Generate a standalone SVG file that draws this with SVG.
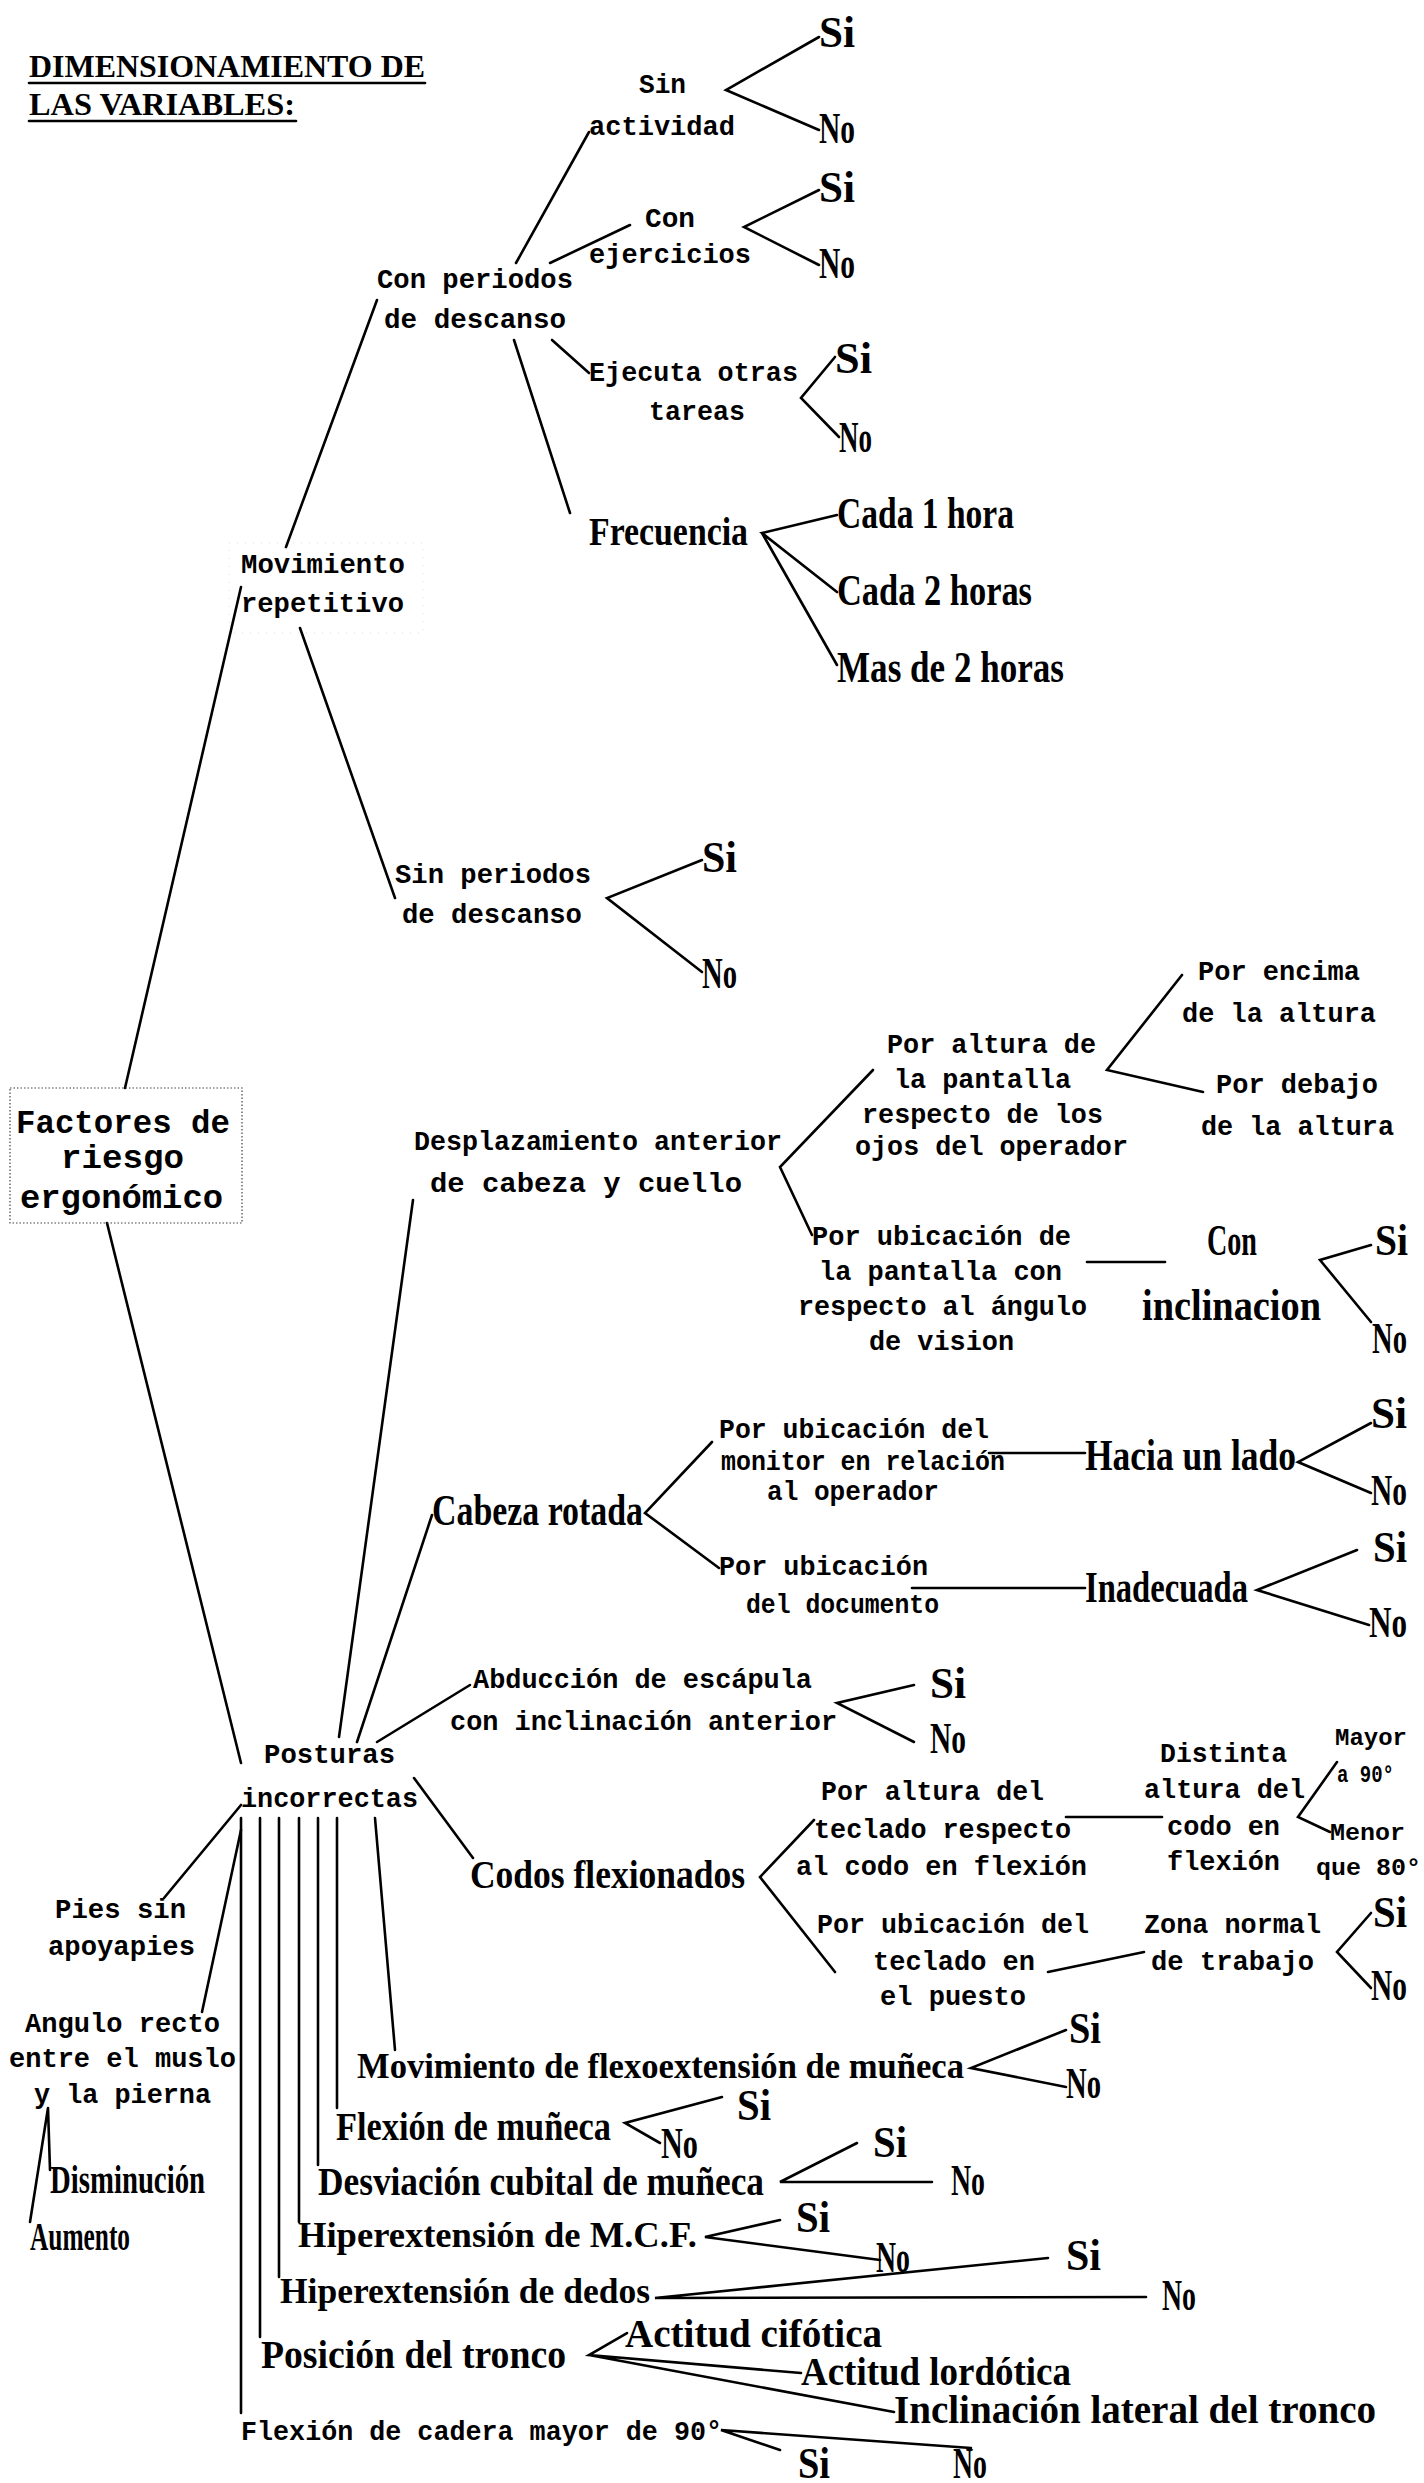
<svg xmlns="http://www.w3.org/2000/svg" width="1424" height="2483" viewBox="0 0 1424 2483">
<style>
text{fill:#000}
.t{font-family:"Liberation Mono","DejaVu Sans Mono",monospace;font-weight:bold;font-size:28px}
.f{font-size:34px}
.s{font-size:24px}
.c{font-family:"Liberation Serif","DejaVu Serif",serif;font-weight:bold;font-size:44px}
.m{font-size:40px}
.n{font-size:36px}
.h{font-family:"Liberation Serif","DejaVu Serif",serif;font-weight:bold;font-size:32px}
.l{stroke:#000;stroke-width:2.6;fill:none;stroke-linecap:round;stroke-linejoin:miter}
.box{fill:none;stroke:#444;stroke-width:1.2;stroke-dasharray:1.5 2}
.fbox{fill:none;stroke:#ddd;stroke-width:1;stroke-dasharray:1 7}
</style>
<rect width="1424" height="2483" fill="#fff"/>

<g id="title">
<text class="h" x="29" y="77" textLength="396" lengthAdjust="spacingAndGlyphs">DIMENSIONAMIENTO DE</text>
<text class="h" x="29" y="115" textLength="266" lengthAdjust="spacingAndGlyphs">LAS VARIABLES:</text>
<line class="l" x1="29" y1="83" x2="425" y2="83" stroke-width="3"/>
<line class="l" x1="29" y1="121" x2="296" y2="121" stroke-width="3"/>
</g>

<g id="connectors">
<path class="l" d="M286,547 L377,300"/>
<path class="l" d="M516,263 L589,132"/>
<path class="l" d="M550,263 L630,225"/>
<path class="l" d="M552,340 L589,373"/>
<path class="l" d="M514,340 L570,513"/>
<path class="l" d="M819,37 L726,90 L819,130"/>
<path class="l" d="M819,190 L744,227 L819,265"/>
<path class="l" d="M835,357 L801,398 L839,437"/>
<path class="l" d="M837,515 L762,533 L837,592 M762,533 L837,665"/>
<path class="l" d="M300,628 L395,898"/>
<path class="l" d="M702,860 L607,898 L702,972"/>
<path class="l" d="M125,1088 L241,587"/>
<path class="l" d="M107,1223 L241,1763"/>
<path class="l" d="M339,1737 L413,1200"/>
<path class="l" d="M873,1070 L780,1167 L812,1235"/>
<path class="l" d="M1182,975 L1107,1070 L1203,1092"/>
<path class="l" d="M1087,1262 L1165,1262"/>
<path class="l" d="M1371,1245 L1320,1260 L1371,1322"/>
<path class="l" d="M357,1742 L432,1515"/>
<path class="l" d="M712,1442 L645,1513 L719,1568"/>
<path class="l" d="M989,1453 L1085,1453"/>
<path class="l" d="M1371,1423 L1298,1462 L1371,1493"/>
<path class="l" d="M912,1588 L1085,1588"/>
<path class="l" d="M1357,1550 L1257,1590 L1369,1625"/>
<path class="l" d="M377,1742 L470,1685"/>
<path class="l" d="M914,1685 L837,1703 L914,1742"/>
<path class="l" d="M414,1778 L473,1858"/>
<path class="l" d="M814,1820 L760,1877 L835,1972"/>
<path class="l" d="M1066,1817 L1162,1817"/>
<path class="l" d="M1337,1762 L1298,1817 L1330,1832"/>
<path class="l" d="M1048,1972 L1144,1952"/>
<path class="l" d="M1371,1913 L1337,1952 L1371,1988"/>
<path class="l" d="M241,1805 L164,1898"/>
<path class="l" d="M241,1830 L202,2012"/>
<path class="l" d="M48,2108 L50,2170 M48,2108 L30,2222"/>
<path class="l" d="M375,1818 L395,2050"/>
<path class="l" d="M241,1818 L241,2413 M260,1818 L260,2337 M279,1818 L279,2277 M299,1818 L299,2222 M318,1818 L318,2165 M337,1818 L337,2108"/>
<path class="l" d="M1066,2030 L971,2068 L1066,2087"/>
<path class="l" d="M722,2097 L625,2123 L660,2143"/>
<path class="l" d="M857,2143 L780,2182 L932,2182"/>
<path class="l" d="M780,2220 L705,2237 L880,2260"/>
<path class="l" d="M1048,2258 L655,2298 L1146,2297"/>
<path class="l" d="M627,2333 L589,2355 L801,2373 M589,2355 L894,2412"/>
<path class="l" d="M780,2450 L721,2430 L971,2448"/>
</g>

<g id="factores">
<rect class="box" x="10" y="1088" width="232" height="135"/>
<text class="t f" x="16" y="1133" textLength="214" lengthAdjust="spacingAndGlyphs">Factores de</text>
<text class="t f" x="61" y="1168" textLength="123" lengthAdjust="spacingAndGlyphs">riesgo</text>
<text class="t f" x="20" y="1208" textLength="203" lengthAdjust="spacingAndGlyphs">ergonómico</text>
</g>

<g id="movimiento-repetitivo">
<rect class="fbox" x="229" y="543" width="194" height="90"/>
<text class="t" x="241" y="573" textLength="164" lengthAdjust="spacingAndGlyphs">Movimiento</text>
<text class="t" x="241" y="612" textLength="163" lengthAdjust="spacingAndGlyphs">repetitivo</text>
</g>

<g id="con-periodos">
<text class="t" x="377" y="288" textLength="196" lengthAdjust="spacingAndGlyphs">Con periodos</text>
<text class="t" x="384" y="328" textLength="182" lengthAdjust="spacingAndGlyphs">de descanso</text>
</g>

<g id="sin-actividad">
<text class="t" x="639" y="93" textLength="47" lengthAdjust="spacingAndGlyphs">Sin</text>
<text class="t" x="589" y="135" textLength="146" lengthAdjust="spacingAndGlyphs">actividad</text>
<text class="c" x="819" y="47" textLength="36" lengthAdjust="spacingAndGlyphs">Si</text>
<text class="c" x="819" y="143" textLength="36" lengthAdjust="spacingAndGlyphs">No</text>
</g>

<g id="con-ejercicios">
<text class="t" x="645" y="227" textLength="50" lengthAdjust="spacingAndGlyphs">Con</text>
<text class="t" x="589" y="263" textLength="162" lengthAdjust="spacingAndGlyphs">ejercicios</text>
<text class="c" x="819" y="202" textLength="36" lengthAdjust="spacingAndGlyphs">Si</text>
<text class="c" x="819" y="278" textLength="36" lengthAdjust="spacingAndGlyphs">No</text>
</g>

<g id="ejecuta-otras-tareas">
<text class="t" x="589" y="381" textLength="209" lengthAdjust="spacingAndGlyphs">Ejecuta otras</text>
<text class="t" x="649" y="420" textLength="96" lengthAdjust="spacingAndGlyphs">tareas</text>
<text class="c" x="835" y="373" textLength="37" lengthAdjust="spacingAndGlyphs">Si</text>
<text class="c" x="839" y="452" textLength="33" lengthAdjust="spacingAndGlyphs">No</text>
</g>

<g id="frecuencia">
<text class="c m" x="589" y="545" textLength="159" lengthAdjust="spacingAndGlyphs">Frecuencia</text>
<text class="c" x="837" y="528" textLength="177" lengthAdjust="spacingAndGlyphs">Cada 1 hora</text>
<text class="c" x="837" y="605" textLength="195" lengthAdjust="spacingAndGlyphs">Cada 2 horas</text>
<text class="c" x="837" y="682" textLength="227" lengthAdjust="spacingAndGlyphs">Mas de 2 horas</text>
</g>

<g id="sin-periodos">
<text class="t" x="395" y="883" textLength="196" lengthAdjust="spacingAndGlyphs">Sin periodos</text>
<text class="t" x="402" y="923" textLength="180" lengthAdjust="spacingAndGlyphs">de descanso</text>
<text class="c" x="702" y="872" textLength="35" lengthAdjust="spacingAndGlyphs">Si</text>
<text class="c" x="702" y="988" textLength="35" lengthAdjust="spacingAndGlyphs">No</text>
</g>

<g id="desplazamiento">
<text class="t" x="414" y="1150" textLength="368" lengthAdjust="spacingAndGlyphs">Desplazamiento anterior</text>
<text class="t" x="430" y="1192" textLength="312" lengthAdjust="spacingAndGlyphs">de cabeza y cuello</text>
</g>

<g id="por-altura-pantalla">
<text class="t" x="887" y="1053" textLength="209" lengthAdjust="spacingAndGlyphs">Por altura de</text>
<text class="t" x="894" y="1088" textLength="177" lengthAdjust="spacingAndGlyphs">la pantalla</text>
<text class="t" x="862" y="1123" textLength="241" lengthAdjust="spacingAndGlyphs">respecto de los</text>
<text class="t" x="855" y="1155" textLength="273" lengthAdjust="spacingAndGlyphs">ojos del operador</text>
</g>

<g id="por-encima">
<text class="t" x="1198" y="980" textLength="162" lengthAdjust="spacingAndGlyphs">Por encima</text>
<text class="t" x="1182" y="1022" textLength="194" lengthAdjust="spacingAndGlyphs">de la altura</text>
</g>

<g id="por-debajo">
<text class="t" x="1216" y="1093" textLength="162" lengthAdjust="spacingAndGlyphs">Por debajo</text>
<text class="t" x="1201" y="1135" textLength="193" lengthAdjust="spacingAndGlyphs">de la altura</text>
</g>

<g id="por-ubicacion-pantalla">
<text class="t" x="812" y="1245" textLength="259" lengthAdjust="spacingAndGlyphs">Por ubicación de</text>
<text class="t" x="819" y="1280" textLength="243" lengthAdjust="spacingAndGlyphs">la pantalla con</text>
<text class="t" x="798" y="1315" textLength="289" lengthAdjust="spacingAndGlyphs">respecto al ángulo</text>
<text class="t" x="869" y="1350" textLength="145" lengthAdjust="spacingAndGlyphs">de vision</text>
</g>

<g id="con-inclinacion">
<text class="c" x="1207" y="1255" textLength="50" lengthAdjust="spacingAndGlyphs">Con</text>
<text class="c" x="1142" y="1320" textLength="179" lengthAdjust="spacingAndGlyphs">inclinacion</text>
<text class="c" x="1375" y="1255" textLength="33" lengthAdjust="spacingAndGlyphs">Si</text>
<text class="c" x="1372" y="1353" textLength="35" lengthAdjust="spacingAndGlyphs">No</text>
</g>

<g id="cabeza-rotada">
<text class="c" x="432" y="1525" textLength="211" lengthAdjust="spacingAndGlyphs">Cabeza rotada</text>
</g>

<g id="por-ubicacion-monitor">
<text class="t" x="719" y="1438" textLength="270" lengthAdjust="spacingAndGlyphs">Por ubicación del</text>
<text class="t" x="721" y="1470" textLength="284" lengthAdjust="spacingAndGlyphs">monitor en relación</text>
<text class="t" x="767" y="1500" textLength="172" lengthAdjust="spacingAndGlyphs">al operador</text>
</g>

<g id="hacia-un-lado">
<text class="c" x="1085" y="1470" textLength="211" lengthAdjust="spacingAndGlyphs">Hacia un lado</text>
<text class="c" x="1371" y="1428" textLength="36" lengthAdjust="spacingAndGlyphs">Si</text>
<text class="c" x="1371" y="1505" textLength="36" lengthAdjust="spacingAndGlyphs">No</text>
</g>

<g id="por-ubicacion-documento">
<text class="t" x="719" y="1575" textLength="209" lengthAdjust="spacingAndGlyphs">Por ubicación</text>
<text class="t" x="746" y="1613" textLength="193" lengthAdjust="spacingAndGlyphs">del documento</text>
</g>

<g id="inadecuada">
<text class="c" x="1085" y="1602" textLength="163" lengthAdjust="spacingAndGlyphs">Inadecuada</text>
<text class="c" x="1373" y="1562" textLength="34" lengthAdjust="spacingAndGlyphs">Si</text>
<text class="c" x="1369" y="1637" textLength="38" lengthAdjust="spacingAndGlyphs">No</text>
</g>

<g id="abduccion">
<text class="t" x="473" y="1688" textLength="339" lengthAdjust="spacingAndGlyphs">Abducción de escápula</text>
<text class="t" x="450" y="1730" textLength="387" lengthAdjust="spacingAndGlyphs">con inclinación anterior</text>
<text class="c" x="930" y="1698" textLength="36" lengthAdjust="spacingAndGlyphs">Si</text>
<text class="c" x="930" y="1753" textLength="36" lengthAdjust="spacingAndGlyphs">No</text>
</g>

<g id="posturas">
<text class="t" x="264" y="1763" textLength="131" lengthAdjust="spacingAndGlyphs">Posturas</text>
<text class="t" x="241" y="1807" textLength="177" lengthAdjust="spacingAndGlyphs">incorrectas</text>
</g>

<g id="codos">
<text class="c m" x="470" y="1888" textLength="275" lengthAdjust="spacingAndGlyphs">Codos flexionados</text>
</g>

<g id="por-altura-teclado">
<text class="t" x="821" y="1800" textLength="223" lengthAdjust="spacingAndGlyphs">Por altura del</text>
<text class="t" x="814" y="1838" textLength="257" lengthAdjust="spacingAndGlyphs">teclado respecto</text>
<text class="t" x="796" y="1875" textLength="291" lengthAdjust="spacingAndGlyphs">al codo en flexión</text>
</g>

<g id="distinta-altura">
<text class="t" x="1160" y="1762" textLength="127" lengthAdjust="spacingAndGlyphs">Distinta</text>
<text class="t" x="1144" y="1798" textLength="161" lengthAdjust="spacingAndGlyphs">altura del</text>
<text class="t" x="1167" y="1835" textLength="113" lengthAdjust="spacingAndGlyphs">codo en</text>
<text class="t" x="1167" y="1870" textLength="113" lengthAdjust="spacingAndGlyphs">flexión</text>
</g>

<g id="mayor-menor">
<text class="t s" x="1335" y="1745" textLength="72" lengthAdjust="spacingAndGlyphs">Mayor</text>
<text class="t s" x="1337" y="1782" textLength="57" lengthAdjust="spacingAndGlyphs">a 90°</text>
<text class="t s" x="1330" y="1840" textLength="75" lengthAdjust="spacingAndGlyphs">Menor</text>
<text class="t s" x="1316" y="1875" textLength="105" lengthAdjust="spacingAndGlyphs">que 80°</text>
</g>

<g id="por-ubicacion-teclado">
<text class="t" x="817" y="1933" textLength="272" lengthAdjust="spacingAndGlyphs">Por ubicación del</text>
<text class="t" x="873" y="1970" textLength="162" lengthAdjust="spacingAndGlyphs">teclado en</text>
<text class="t" x="880" y="2005" textLength="146" lengthAdjust="spacingAndGlyphs">el puesto</text>
</g>

<g id="zona-normal">
<text class="t" x="1144" y="1933" textLength="177" lengthAdjust="spacingAndGlyphs">Zona normal</text>
<text class="t" x="1151" y="1970" textLength="163" lengthAdjust="spacingAndGlyphs">de trabajo</text>
<text class="c" x="1373" y="1927" textLength="34" lengthAdjust="spacingAndGlyphs">Si</text>
<text class="c" x="1371" y="2000" textLength="36" lengthAdjust="spacingAndGlyphs">No</text>
</g>

<g id="pies">
<text class="t" x="55" y="1918" textLength="131" lengthAdjust="spacingAndGlyphs">Pies sin</text>
<text class="t" x="48" y="1955" textLength="147" lengthAdjust="spacingAndGlyphs">apoyapies</text>
</g>

<g id="angulo-recto">
<text class="t" x="25" y="2032" textLength="195" lengthAdjust="spacingAndGlyphs">Angulo recto</text>
<text class="t" x="9" y="2067" textLength="227" lengthAdjust="spacingAndGlyphs">entre el muslo</text>
<text class="t" x="34" y="2103" textLength="177" lengthAdjust="spacingAndGlyphs">y la pierna</text>
</g>

<g id="disminucion">
<text class="c m" x="50" y="2193" textLength="155" lengthAdjust="spacingAndGlyphs">Disminución</text>
</g>
<g id="aumento">
<text class="c m" x="30" y="2250" textLength="100" lengthAdjust="spacingAndGlyphs">Aumento</text>
</g>

<g id="flexoextension">
<text class="c n" x="357" y="2078" textLength="607" lengthAdjust="spacingAndGlyphs">Movimiento de flexoextensión de muñeca</text>
<text class="c" x="1069" y="2043" textLength="32" lengthAdjust="spacingAndGlyphs">Si</text>
<text class="c" x="1066" y="2098" textLength="35" lengthAdjust="spacingAndGlyphs">No</text>
</g>

<g id="flexion-muneca">
<text class="c m" x="336" y="2140" textLength="275" lengthAdjust="spacingAndGlyphs">Flexión de muñeca</text>
<text class="c" x="737" y="2120" textLength="34" lengthAdjust="spacingAndGlyphs">Si</text>
<text class="c" x="661" y="2158" textLength="37" lengthAdjust="spacingAndGlyphs">No</text>
</g>

<g id="desviacion-cubital">
<text class="c m" x="318" y="2195" textLength="446" lengthAdjust="spacingAndGlyphs">Desviación cubital de muñeca</text>
<text class="c" x="873" y="2157" textLength="34" lengthAdjust="spacingAndGlyphs">Si</text>
<text class="c" x="951" y="2195" textLength="34" lengthAdjust="spacingAndGlyphs">No</text>
</g>

<g id="hiperextension-mcf">
<text class="c n" x="298" y="2247" textLength="399" lengthAdjust="spacingAndGlyphs">Hiperextensión de M.C.F.</text>
<text class="c" x="796" y="2232" textLength="34" lengthAdjust="spacingAndGlyphs">Si</text>
<text class="c" x="876" y="2272" textLength="34" lengthAdjust="spacingAndGlyphs">No</text>
</g>

<g id="hiperextension-dedos">
<text class="c n" x="280" y="2303" textLength="370" lengthAdjust="spacingAndGlyphs">Hiperextensión de dedos</text>
<text class="c" x="1066" y="2270" textLength="35" lengthAdjust="spacingAndGlyphs">Si</text>
<text class="c" x="1162" y="2310" textLength="34" lengthAdjust="spacingAndGlyphs">No</text>
</g>

<g id="posicion-tronco">
<text class="c m" x="261" y="2368" textLength="305" lengthAdjust="spacingAndGlyphs">Posición del tronco</text>
<text class="c m" x="625" y="2347" textLength="257" lengthAdjust="spacingAndGlyphs">Actitud cifótica</text>
<text class="c m" x="801" y="2385" textLength="270" lengthAdjust="spacingAndGlyphs">Actitud lordótica</text>
<text class="c m" x="894" y="2423" textLength="482" lengthAdjust="spacingAndGlyphs">Inclinación lateral del tronco</text>
</g>

<g id="flexion-cadera">
<text class="t" x="241" y="2440" textLength="481" lengthAdjust="spacingAndGlyphs">Flexión de cadera mayor de 90°</text>
<text class="c" x="798" y="2478" textLength="32" lengthAdjust="spacingAndGlyphs">Si</text>
<text class="c" x="953" y="2478" textLength="34" lengthAdjust="spacingAndGlyphs">No</text>
</g>
</svg>
